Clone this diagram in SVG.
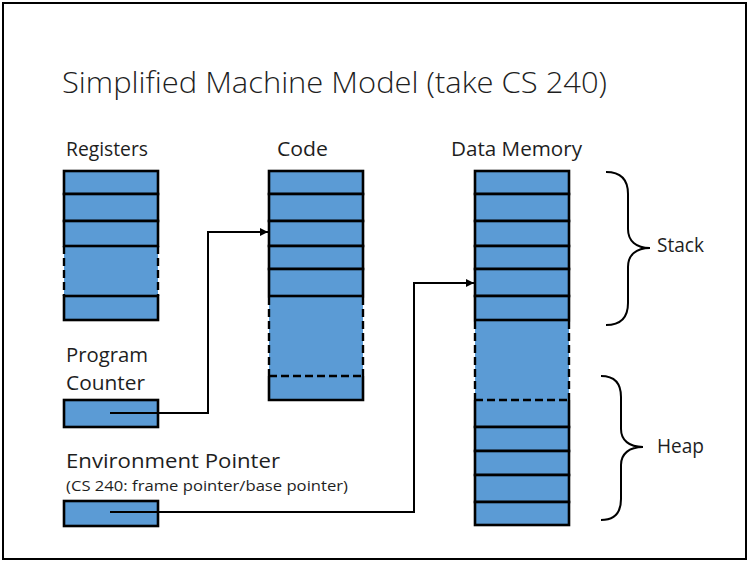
<svg xmlns="http://www.w3.org/2000/svg" width="748" height="561" viewBox="0 0 748 561">
  <defs>
    <marker id="arrow" viewBox="0 0 10 10" refX="10" refY="5" markerWidth="4.5" markerHeight="4" markerUnits="strokeWidth" orient="auto">
      <path d="M0,0 L10,5 L0,10 z" fill="#000"/>
    </marker>
    <style>
      text { font-family: "Open Sans", "Noto Sans", "DejaVu Sans", sans-serif; fill: #1e1e1e; }
      .title { font-size: 30px; font-weight: 300; }
      .label { font-size: 20px; }
      .small { font-size: 14px; }
      .cell { fill: #5b9bd5; stroke: #000; stroke-width: 2.6; }
      .gapfill { fill: #5b9bd5; stroke: none; }
      .open { fill: #5b9bd5; stroke: #000; stroke-width: 2.6; }
      .dash { fill: none; stroke: #000; stroke-width: 2.4; stroke-dasharray: 8 4; }
      .wire { fill: none; stroke: #000; stroke-width: 2; }
      .brace { fill: none; stroke: #000; stroke-width: 2; }
    </style>
  </defs>

  <rect x="0" y="0" width="748" height="561" fill="#fff"/>
  <!-- slide frame -->
  <rect x="3" y="3" width="743" height="556" fill="none" stroke="#000" stroke-width="2"/>

  <g id="title">
    <text class="title" x="62" y="93" textLength="545" lengthAdjust="spacingAndGlyphs">Simplified Machine Model (take CS 240)</text>
  </g>

  <!-- Registers column -->
  <g id="registers">
    <text class="label" x="66" y="156" textLength="82" lengthAdjust="spacingAndGlyphs">Registers</text>
    <rect class="gapfill" x="64" y="246" width="94" height="50"/>
    <line class="dash" x1="64" y1="246" x2="64" y2="296"/>
    <line class="dash" x1="158" y1="246" x2="158" y2="296"/>
    <rect class="cell" x="64" y="171" width="94" height="23"/>
    <rect class="cell" x="64" y="194" width="94" height="27"/>
    <rect class="cell" x="64" y="221" width="94" height="25"/>
    <rect class="cell" x="64" y="296" width="94" height="24"/>
  </g>

  <!-- Code column -->
  <g id="code">
    <text class="label" x="277" y="156" textLength="51" lengthAdjust="spacingAndGlyphs">Code</text>
    <rect class="gapfill" x="269" y="296" width="94" height="80"/>
    <rect class="cell" x="269" y="171" width="94" height="23"/>
    <rect class="cell" x="269" y="194" width="94" height="27"/>
    <rect class="cell" x="269" y="221" width="94" height="25"/>
    <rect class="cell" x="269" y="246" width="94" height="23"/>
    <rect class="cell" x="269" y="269" width="94" height="27"/>
    <path class="open" d="M269,376 V400 H363 V376"/>
    <line class="dash" x1="269" y1="297" x2="269" y2="376"/>
    <line class="dash" x1="363" y1="297" x2="363" y2="376"/>
    <line class="dash" x1="269" y1="376" x2="363" y2="376"/>
  </g>

  <!-- Data memory column -->
  <g id="data-memory">
    <text class="label" x="451" y="156" textLength="131" lengthAdjust="spacingAndGlyphs">Data Memory</text>
    <rect class="gapfill" x="475" y="320" width="94" height="80"/>
    <rect class="cell" x="475" y="171" width="94" height="23"/>
    <rect class="cell" x="475" y="194" width="94" height="27"/>
    <rect class="cell" x="475" y="221" width="94" height="25"/>
    <rect class="cell" x="475" y="246" width="94" height="23"/>
    <rect class="cell" x="475" y="269" width="94" height="27"/>
    <rect class="cell" x="475" y="296" width="94" height="24"/>
    <line class="dash" x1="475" y1="321" x2="475" y2="400"/>
    <line class="dash" x1="569" y1="321" x2="569" y2="400"/>
    <path class="open" d="M475,400 V427 H569 V400"/>
    <line class="dash" x1="475" y1="400" x2="569" y2="400"/>
    <rect class="cell" x="475" y="427" width="94" height="24"/>
    <rect class="cell" x="475" y="451" width="94" height="24"/>
    <rect class="cell" x="475" y="475" width="94" height="27"/>
    <rect class="cell" x="475" y="502" width="94" height="23"/>
  </g>

  <g id="program-counter">
    <text class="label" x="66" y="362" textLength="82" lengthAdjust="spacingAndGlyphs">Program</text>
    <text class="label" x="66" y="390" textLength="79" lengthAdjust="spacingAndGlyphs">Counter</text>
    <rect class="cell" x="64" y="400" width="94" height="27"/>
  </g>

  <g id="environment-pointer">
    <text class="label" x="66" y="468" textLength="214" lengthAdjust="spacingAndGlyphs">Environment Pointer</text>
    <text class="small" x="66" y="491" textLength="282" lengthAdjust="spacingAndGlyphs">(CS 240: frame pointer/base pointer)</text>
    <rect class="cell" x="64" y="501" width="94" height="25"/>
  </g>

  <g id="stack">
    <path class="brace" d="M606,172 C621,172 628,179 628,194 L628,229 C628,241 636,248 650,248 C636,248 628,255 628,267 L628,303 C628,318 621,325 606,325"/>
    <text class="label" x="657" y="252" textLength="47" lengthAdjust="spacingAndGlyphs">Stack</text>
  </g>

  <g id="heap">
    <path class="brace" d="M601,376 C615,376 621,383 621,397 L621,429 C621,440 629,447 643,447 C629,447 621,454 621,465 L621,499 C621,513 615,520 601,520"/>
    <text class="label" x="657" y="453" textLength="47" lengthAdjust="spacingAndGlyphs">Heap</text>
  </g>

  <!-- pointer wires -->
  <g id="connectors">
    <path class="wire" d="M110,413 H208 V232 H268" marker-end="url(#arrow)"/>
    <path class="wire" d="M110,512 H414 V283 H474" marker-end="url(#arrow)"/>
  </g>
</svg>
